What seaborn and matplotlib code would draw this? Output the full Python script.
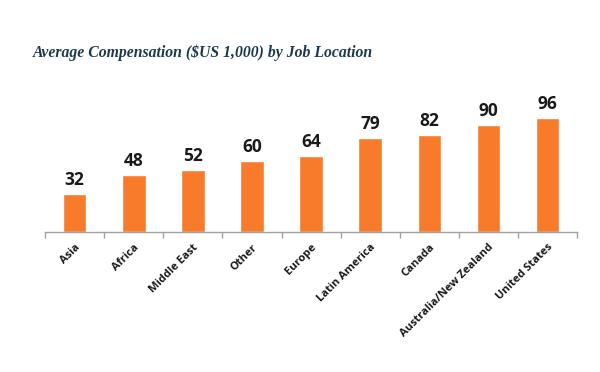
import matplotlib
matplotlib.use("Agg")
import matplotlib.pyplot as plt
import seaborn as sns
import pandas as pd
import numpy as np
from matplotlib.ticker import FixedLocator

locais = ["Asia", "Africa", "Middle East", "Other", "Europe", "Latin America",
          "Canada", "Australia/New Zealand", "United States"]
valores = [32, 48, 52, 60, 64, 79, 82, 90, 96]

C_LARANJA = "#F77B2B"
C_TITULO = "#1C3A4C"
C_TEXTO = "#1a1a1a"

sns.set_theme(style="white")
plt.rcParams['font.family'] = ['Open Sans', 'DejaVu Sans']

df = pd.DataFrame({"Local": locais, "Valor": valores})

fig = plt.figure(figsize=(6, 3.72), dpi=100)
ax = fig.add_axes([0.075, 0.376, 0.887, 0.32])

sns.barplot(data=df, x="Local", y="Valor", color=C_LARANJA, width=0.4,
            saturation=1, ax=ax)

ax.set_ylim(0, 100)
ax.set_xlim(-0.5, len(locais) - 0.5)

for p, v in zip(ax.patches, valores):
    ax.annotate(f"{v}", (p.get_x() + p.get_width() / 2, p.get_height()),
                xytext=(0, 3.5), textcoords="offset points", ha="center", va="bottom",
                fontsize=12.5, fontweight="bold", color=C_TEXTO, clip_on=False)

for lado in ["top", "right", "left"]:
    ax.spines[lado].set_visible(False)
ax.spines["bottom"].set_color("#a0a0a0")
ax.spines["bottom"].set_linewidth(1)
ax.set_yticks([])
ax.set_xlabel("")
ax.set_ylabel("")

ax.tick_params(axis="x", which="major", length=0, pad=7)
ax.xaxis.set_minor_locator(FixedLocator(np.arange(-0.5, len(locais), 1)))
ax.tick_params(axis="x", which="minor", length=4, color="#a0a0a0", width=1,
               direction="out", bottom=True)
ax.set_xticks(range(len(locais)))
ax.set_xticklabels(locais, rotation=45, ha="right", rotation_mode="anchor",
                   fontsize=8, fontweight="bold", color=C_TEXTO)

fig.text(0.054, 0.857, "Average Compensation ($US 1,000) by Job Location",
         family=["Liberation Serif", "DejaVu Serif"], fontsize=11.3,
         fontweight="bold", fontstyle="italic", color=C_TITULO, va="center")

fig.savefig("out.png", dpi=100, facecolor="white")
plt.close(fig)
